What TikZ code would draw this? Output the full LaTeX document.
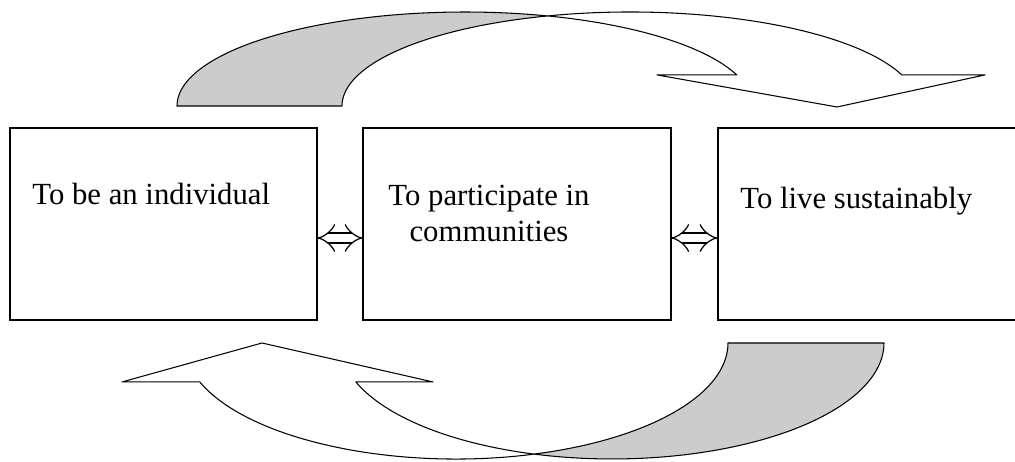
\documentclass[tikz,border=0pt]{standalone}
\usepackage{fontspec}
\setmainfont{Liberation Serif}
\usetikzlibrary{positioning}
\usetikzlibrary{arrows.meta}
\definecolor{tailgray}{RGB}{204,204,204}
\tikzset{
  panel/.style={rectangle, draw, line width=0.8pt, minimum height=3.84cm, outer sep=0pt, inner sep=0pt},
  caption/.style={font=\fontsize{17.5}{21}\selectfont, inner sep=0pt},
  link/.style={double, double distance=5pt, line width=0.7pt, {Implies}-{Implies}},
  ribbon/.style={line width=0.6pt, line join=round}
}
\begin{document}
\begin{tikzpicture}[x=0.02cm, y=0.02cm]
   \useasboundingbox (0,0) rectangle (1015,462);
   \clip (0,0) rectangle (1015,462);
   % the three boxes
   \node[panel, minimum width=6.14cm, anchor=south west] (indiv) at (10,142) {};
   \node[panel, minimum width=6.16cm, right=0.92cm of indiv] (commun) {};
   \node[panel, minimum width=6.6cm, right=0.94cm of commun] (sustain) {};
   \node[caption, anchor=base west] (indivtext) at (32,257) {To be an individual};
   \node[caption, anchor=base, align=center] (communtext) at (489,220) {To participate in\\communities};
   \node[caption, anchor=base west] (sustaintext) at (740,253) {To live sustainably};
   % links between the boxes
   \draw[link] ([yshift=-0.28cm]indiv.east) -- ([yshift=-0.28cm]commun.west);
   \draw[link] ([yshift=-0.28cm]commun.east) -- ([yshift=-0.28cm]sustain.west);
   % curved arrow on top
   \filldraw[ribbon, fill=tailgray] (177,356)
      arc[start angle=180, end angle=73.35, x radius=5.76cm, y radius=1.88cm]
      arc[start angle=106.65, end angle=180, x radius=5.76cm, y radius=1.88cm] -- cycle;
   \filldraw[ribbon, fill=white] (547.5,446.06)
      arc[start angle=73.35, end angle=19.3, x radius=5.76cm, y radius=1.88cm]
      -- (657,387.07) -- (837,355) -- (985,387.07) -- (901.8,387.07)
      arc[start angle=19.3, end angle=106.65, x radius=5.76cm, y radius=1.88cm] -- cycle;
   % curved arrow below
   \filldraw[ribbon, fill=tailgray] (884,119)
      arc[start angle=0, end angle=-106.67, x radius=5.44cm, y radius=2.32cm]
      arc[start angle=-73.33, end angle=0, x radius=5.44cm, y radius=2.32cm] -- cycle;
   \filldraw[ribbon, fill=white] (534,7.9)
      arc[start angle=-106.67, end angle=-160.4, x radius=5.44cm, y radius=2.32cm]
      -- (433,80.04) -- (262,119) -- (122,80.04) -- (199.8,80.04)
      arc[start angle=-160.4, end angle=-73.33, x radius=5.44cm, y radius=2.32cm] -- cycle;
\end{tikzpicture}
\end{document}
